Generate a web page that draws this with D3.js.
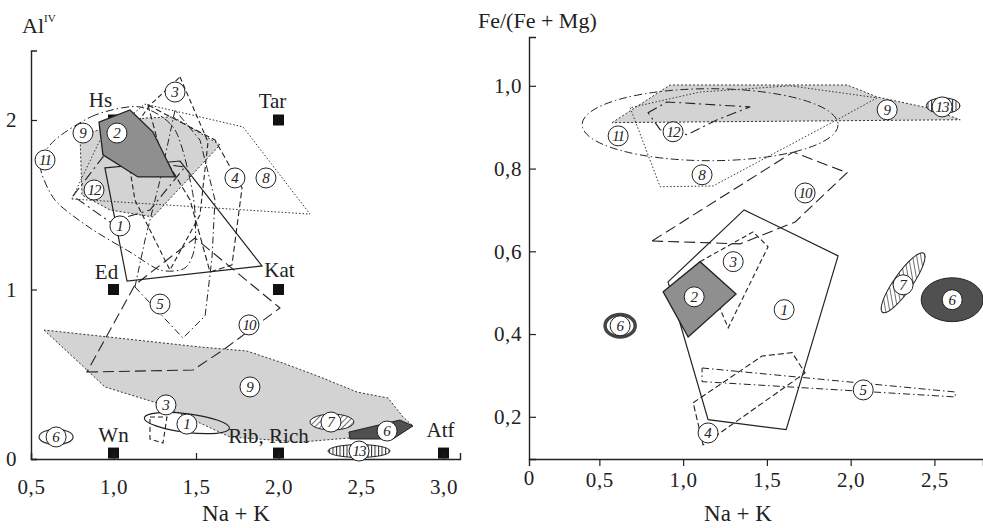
<!DOCTYPE html>
<html>
<head>
<meta charset="utf-8">
<script src="https://cdn.jsdelivr.net/npm/d3@7/dist/d3.min.js"></script>
<style>
  body { margin: 0; background: #fff; }
  svg, svg text { font-family: "Liberation Serif", "Times New Roman", Times, serif; }
</style>
</head>
<body>
<script>
// ---- left diagram: Al(IV) vs Na + K ----
var leftXTicks = [0.5, 1.0, 1.5, 2.0, 2.5, 3.0];
var leftYTicks = [0, 1, 2];

// end-member points (black squares)
var leftMarkers = [
  {name: "Hs", x: 1.0, y: 2.0},
  {name: "Tar", x: 2.0, y: 2.0},
  {name: "Ed", x: 1.0, y: 1.0},
  {name: "Kat", x: 2.0, y: 1.0},
  {name: "Wn", x: 1.0, y: 0.035},
  {name: "Rib, Rich", x: 2.0, y: 0.035},
  {name: "Atf", x: 3.0, y: 0.035}
];

// composition fields (polygon outlines)
var leftFields = [
  {id: "9", pts: [[0.579,0.761],[0.839,0.525],[0.948,0.425],[1.264,0.330],[1.706,0.130],[2.130,0.100],[2.433,0.124],[2.815,0.195],[2.755,0.248],[2.664,0.360],[2.476,0.395],[2.252,0.484],[2.027,0.566],[1.809,0.637],[1.524,0.661]]},
  {id: "9", pts: [[0.797,1.912],[1.191,2.012],[1.361,2.018],[1.645,1.853],[1.239,1.428],[0.979,1.469],[0.809,1.558]]},
  {id: "8", pts: [[0.748,1.534],[0.918,1.882],[1.191,2.094],[1.785,1.959],[2.191,1.445]]},
  {id: "11", pts: [[1.161,2.077],[0.888,2.029],[0.645,1.882],[0.555,1.735],[0.645,1.528],[0.858,1.363],[1.100,1.221],[1.282,1.115],[1.433,1.127],[1.494,1.263],[1.482,1.558],[1.373,1.941]]},
  {id: "12", pts: [[0.755,1.552],[0.936,1.782],[1.433,1.723],[1.221,1.469],[0.979,1.398]]},
  {id: "3", pts: [[1.403,2.254],[1.573,1.870],[1.524,1.440],[1.342,1.115],[1.130,1.528],[1.070,1.882],[1.221,2.088]]},
  {id: "4", pts: [[1.209,2.088],[1.615,1.882],[1.779,1.599],[1.718,1.145],[1.585,1.103],[1.464,1.528],[1.282,1.823]]},
  {id: "5", pts: [[1.130,1.015],[1.421,0.714],[1.555,0.844],[1.597,1.186],[1.615,1.528],[1.524,1.882],[1.373,2.059],[1.282,1.646],[1.191,1.292]]},
  {id: "10", pts: [[0.839,0.513],[1.482,0.525],[1.664,0.643],[2.009,0.891],[1.494,1.304],[1.130,1.027]]},
  {id: "1", pts: [[0.948,1.717],[1.403,1.758],[1.900,1.139],[1.082,1.050]]},
  {id: "3", pts: [[1.221,0.248],[1.324,0.248],[1.300,0.094],[1.221,0.118]]},
  {id: "2", pts: [[0.912,1.988],[1.100,2.059],[1.239,1.929],[1.373,1.664],[1.148,1.664],[0.936,1.794]]},
  {id: "6", pts: [[2.427,0.159],[2.736,0.230],[2.815,0.195],[2.694,0.118],[2.433,0.118]]}
];

// small fields drawn as ellipses: centre, half-widths, tilt
var leftEllipses = [
  {id: "1", x: 1.445, y: 0.212, rx: 0.26, ry: 0.055, tilt: 7},
  {id: "6o", x: 0.652, y: 0.130, rx: 0.103, ry: 0.045, tilt: 0},
  {id: "7", x: 2.324, y: 0.218, rx: 0.133, ry: 0.047, tilt: 0},
  {id: "13", x: 2.488, y: 0.047, rx: 0.188, ry: 0.038, tilt: 0}
];

var leftLabels = [
  {n: "9", x: 0.815, y: 1.923}, {n: "2", x: 1.021, y: 1.923}, {n: "11", x: 0.585, y: 1.764},
  {n: "12", x: 0.882, y: 1.587}, {n: "1", x: 1.039, y: 1.375}, {n: "3", x: 1.373, y: 2.165},
  {n: "4", x: 1.736, y: 1.658}, {n: "8", x: 1.924, y: 1.658}, {n: "5", x: 1.282, y: 0.914},
  {n: "10", x: 1.821, y: 0.791}, {n: "9", x: 1.827, y: 0.425}, {n: "3", x: 1.318, y: 0.319},
  {n: "1", x: 1.445, y: 0.206}, {n: "7", x: 2.318, y: 0.218}, {n: "6", x: 2.658, y: 0.165},
  {n: "13", x: 2.488, y: 0.047}, {n: "6", x: 0.652, y: 0.130}
];

// ---- right diagram: Fe/(Fe + Mg) vs Na + K ----
var rightXTicks = [0.5, 1.0, 1.5, 2.0, 2.5];
var rightYTicks = [0.2, 0.4, 0.6, 0.8, 1.0];

var rightFields = [
  {id: "9", pts: [[0.576,0.911],[0.922,1.002],[1.979,1.002],[2.158,0.973],[2.457,0.947],[2.654,0.918]]},
  {id: "8", pts: [[0.684,0.947],[0.863,0.756],[1.179,0.758],[1.919,0.918],[2.158,0.971],[1.639,1.000],[1.101,0.985]]},
  {id: "12", pts: [[0.791,0.935],[0.904,0.961],[1.400,0.949],[1.203,0.918],[1.024,0.882],[0.863,0.894]]},
  {id: "10", pts: [[0.815,0.625],[1.340,0.618],[1.669,0.671],[1.979,0.790],[1.657,0.840]]},
  {id: "1", pts: [[0.910,0.526],[1.364,0.700],[1.925,0.589],[1.615,0.169],[1.149,0.193]]},
  {id: "2", pts: [[0.881,0.502],[1.101,0.575],[1.316,0.497],[1.030,0.393]]},
  {id: "3", pts: [[1.101,0.575],[1.418,0.647],[1.507,0.611],[1.269,0.415]]},
  {id: "4", pts: [[1.060,0.234],[1.472,0.347],[1.651,0.355],[1.728,0.306],[1.119,0.132]]},
  {id: "5", pts: [[1.113,0.318],[2.624,0.260],[2.624,0.248],[1.113,0.285]]}
];

var rightEllipses = [
  {id: "11", x: 1.161, y: 0.906, rx: 0.764, ry: 0.087, tilt: 0},
  {id: "13", x: 2.552, y: 0.952, rx: 0.101, ry: 0.019, tilt: 0},
  {id: "7", x: 2.313, y: 0.524, rx: 0.215, ry: 0.022, tilt: -55},
  {id: "6", x: 2.606, y: 0.483, rx: 0.185, ry: 0.053, tilt: 0},
  {id: "6o", x: 0.624, y: 0.420, rx: 0.09, ry: 0.027, tilt: 0}
];

var rightLabels = [
  {n: "11", x: 0.612, y: 0.879}, {n: "12", x: 0.940, y: 0.889}, {n: "8", x: 1.113, y: 0.785},
  {n: "9", x: 2.218, y: 0.942}, {n: "13", x: 2.546, y: 0.949}, {n: "10", x: 1.728, y: 0.741},
  {n: "3", x: 1.299, y: 0.575}, {n: "2", x: 1.066, y: 0.490}, {n: "1", x: 1.603, y: 0.459},
  {n: "7", x: 2.313, y: 0.519}, {n: "6", x: 2.606, y: 0.483}, {n: "6", x: 0.624, y: 0.420},
  {n: "5", x: 2.075, y: 0.265}, {n: "4", x: 1.149, y: 0.161}
];

// line style for each field number
var fieldStyle = {
  "1": {stroke: "#222", dash: null, fill: "none", w: 1.2},
  "2": {stroke: "#222", dash: null, fill: "#8f8f8f", w: 1.3},
  "3": {stroke: "#222", dash: "5,3", fill: "none", w: 1.1},
  "4": {stroke: "#222", dash: "6,3", fill: "none", w: 1.1},
  "5": {stroke: "#222", dash: "7,3,1.5,3", fill: "none", w: 1},
  "6": {stroke: "#222", dash: null, fill: "#505050", w: 1},
  "6o": {stroke: "#333", dash: null, fill: "#fff", w: 1.2},
  "7": {stroke: "#222", dash: null, fill: "url(#hatchDiag)", w: 1},
  "8": {stroke: "#333", dash: "1.5,2", fill: "none", w: 1},
  "9": {stroke: "#333", dash: "2,2", fill: "#d3d3d3", w: 1},
  "10": {stroke: "#222", dash: "11,5", fill: "none", w: 1.1},
  "11": {stroke: "#222", dash: "8,3,1.5,3", fill: "none", w: 1},
  "12": {stroke: "#222", dash: "10,4,2,4", fill: "none", w: 1.1},
  "13": {stroke: "#222", dash: null, fill: "url(#hatchVert)", w: 1}
};

// label offsets of the end-member names, px from the square
var markerTextShift = {
  "Hs": [-13, -13], "Tar": [-6, -12], "Ed": [-7, -10], "Kat": [1, -12],
  "Wn": [0, -11], "Rib, Rich": [-10, -10], "Atf": [-3, -16]
};

var width = 983, height = 528;
var serif = "'Liberation Serif', 'Times New Roman', Times, serif";
var commaFmt = function(v) { return d3.format(".1f")(v).replace(".", ","); };

var svg = d3.select("body").append("svg")
  .attr("width", width)
  .attr("height", height)
  .style("font-family", serif);

var defs = svg.append("defs");
var pd = defs.append("pattern").attr("id", "hatchDiag")
  .attr("patternUnits", "userSpaceOnUse").attr("width", 4).attr("height", 4)
  .attr("patternTransform", "rotate(45)");
pd.append("rect").attr("width", 4).attr("height", 4).attr("fill", "#fff");
pd.append("line").attr("x1", 0).attr("y1", 0).attr("x2", 0).attr("y2", 4)
  .attr("stroke", "#333").attr("stroke-width", 1.4);
var pv = defs.append("pattern").attr("id", "hatchVert")
  .attr("patternUnits", "userSpaceOnUse").attr("width", 3.5).attr("height", 4);
pv.append("rect").attr("width", 3.5).attr("height", 4).attr("fill", "#fff");
pv.append("line").attr("x1", 0.5).attr("y1", 0).attr("x2", 0.5).attr("y2", 4)
  .attr("stroke", "#333").attr("stroke-width", 1.1);

// draws one panel
function drawPanel(cfg) {
  var g = svg.append("g");
  var x = cfg.x, y = cfg.y;

  var line = d3.line()
    .x(function(d) { return x(d[0]); })
    .y(function(d) { return y(d[1]); })
    .curve(d3.curveLinearClosed);
  var smooth = d3.line()
    .x(function(d) { return x(d[0]); })
    .y(function(d) { return y(d[1]); })
    .curve(d3.curveCardinalClosed.tension(0.2));

  function styleIt(sel, id) {
    var s = fieldStyle[id];
    sel.attr("fill", s.fill).attr("stroke", s.stroke)
      .attr("stroke-width", s.w)
      .attr("stroke-dasharray", s.dash);
  }

  // light grey fields go underneath everything
  var under = cfg.fields.filter(function(f) { return f.id === "9"; });
  var lines = cfg.fields.filter(function(f) { return f.id !== "9" && f.id !== "2" && f.id !== "6"; });
  var solid = cfg.fields.filter(function(f) { return f.id === "2" || f.id === "6"; });

  under.forEach(function(f) {
    g.append("path").attr("d", line(f.pts)).call(styleIt, f.id);
  });

  if (cfg.markers) {
    cfg.markers.forEach(function(m) {
      g.append("rect")
        .attr("x", x(m.x) - 5.5).attr("y", y(m.y) - 5.5)
        .attr("width", 11).attr("height", 11)
        .attr("fill", "#111");
    });
  }

  lines.forEach(function(f) {
    var gen = f.id === "11" ? smooth : line;
    g.append("path").attr("d", gen(f.pts)).call(styleIt, f.id);
  });
  solid.forEach(function(f) {
    g.append("path").attr("d", line(f.pts)).call(styleIt, f.id);
  });

  cfg.ellipses.forEach(function(e) {
    var cx = x(e.x), cy = y(e.y);
    var rx = Math.abs(x(e.x + e.rx) - cx), ry = Math.abs(y(e.y + e.ry) - cy);
    var el = g.append("ellipse")
      .attr("cx", cx).attr("cy", cy).attr("rx", rx).attr("ry", ry)
      .attr("transform", "rotate(" + e.tilt + "," + cx + "," + cy + ")")
      .call(styleIt, e.id);
    if (e.id === "6o" && cfg.side === "right") el.attr("stroke-width", 3.5).attr("stroke", "#444");
  });

  // axes
  var xAxis = d3.axisBottom(x).tickValues(cfg.xTicks).tickFormat(commaFmt)
    .tickSizeOuter(0).tickSize(cfg.xTickSize).tickPadding(cfg.xPad);
  var yAxis = d3.axisLeft(y).tickValues(cfg.yTicks).tickFormat(cfg.yFmt)
    .tickSizeOuter(0).tickSize(cfg.yTickSize).tickPadding(cfg.yPad);
  var ax = g.append("g").attr("transform", "translate(0," + y.range()[0] + ")").call(xAxis);
  var ay = g.append("g").attr("transform", "translate(" + x.range()[0] + ",0)").call(yAxis);
  [ax, ay].forEach(function(a) {
    a.attr("font-family", serif).attr("font-size", 21);
    a.select(".domain").attr("stroke", "#222").attr("stroke-width", 1.4);
    a.selectAll(".tick line").attr("stroke", "#222").attr("stroke-width", 1.2);
    a.selectAll("text").attr("fill", "#222").attr("letter-spacing", 0.6);
  });

  // circled field numbers
  cfg.labels.forEach(function(l) {
    var lg = g.append("g").attr("transform", "translate(" + x(l.x) + "," + y(l.y) + ")");
    lg.append("circle").attr("r", 10).attr("fill", "#fff")
      .attr("stroke", "#222").attr("stroke-width", 1);
    lg.append("text").attr("text-anchor", "middle").attr("dy", "0.35em")
      .attr("font-size", 15).attr("font-style", "italic").attr("fill", "#222")
      .attr("letter-spacing", l.n.length > 1 ? -1 : 0)
      .text(l.n);
  });

  if (cfg.markers) {
    cfg.markers.forEach(function(m) {
      var sh = markerTextShift[m.name];
      g.append("text")
        .attr("x", x(m.x) + sh[0]).attr("y", y(m.y) + sh[1])
        .attr("text-anchor", "middle").attr("font-size", 21).attr("fill", "#222")
        .text(m.name);
    });
  }
  return g;
}

// left panel scales
var xL = d3.scaleLinear().domain([0.5, 3.1]).range([31, 460]);
var yL = d3.scaleLinear().domain([0, 2.41]).range([459, 50.5]);
var gL = drawPanel({
  side: "left", x: xL, y: yL, fields: leftFields, ellipses: leftEllipses,
  labels: leftLabels, markers: leftMarkers,
  xTicks: leftXTicks, yTicks: leftYTicks, yFmt: d3.format("d"),
  xTickSize: -6, xPad: 20, yTickSize: -6, yPad: 14
});
gL.append("text").attr("x", 22).attr("y", 33).attr("font-size", 22).attr("fill", "#222")
  .text("Al").append("tspan").attr("font-size", 11).attr("dy", -11).text("IV");
gL.append("text").attr("x", 236).attr("y", 521).attr("text-anchor", "middle")
  .attr("font-size", 23).attr("fill", "#222").text("Na + K");

// right panel scales
var xR = d3.scaleLinear().domain([0.08, 2.79]).range([529, 983]);
var yR = d3.scaleLinear().domain([0.098, 1.118]).range([459, 37]);
var gR = drawPanel({
  side: "right", x: xR, y: yR, fields: rightFields, ellipses: rightEllipses,
  labels: rightLabels, markers: null,
  xTicks: rightXTicks, yTicks: rightYTicks, yFmt: commaFmt,
  xTickSize: 7, xPad: 6, yTickSize: -7, yPad: 7
});
gR.append("text").attr("x", xR.range()[0]).attr("y", 485).attr("text-anchor", "middle")
  .attr("font-size", 21).attr("fill", "#222").text("0");
gR.append("text").attr("x", 478).attr("y", 28).attr("font-size", 22).attr("fill", "#222")
  .text("Fe/(Fe + Mg)");
gR.append("text").attr("x", 738).attr("y", 521).attr("text-anchor", "middle")
  .attr("font-size", 23).attr("fill", "#222").text("Na + K");
</script>
</body>
</html>
